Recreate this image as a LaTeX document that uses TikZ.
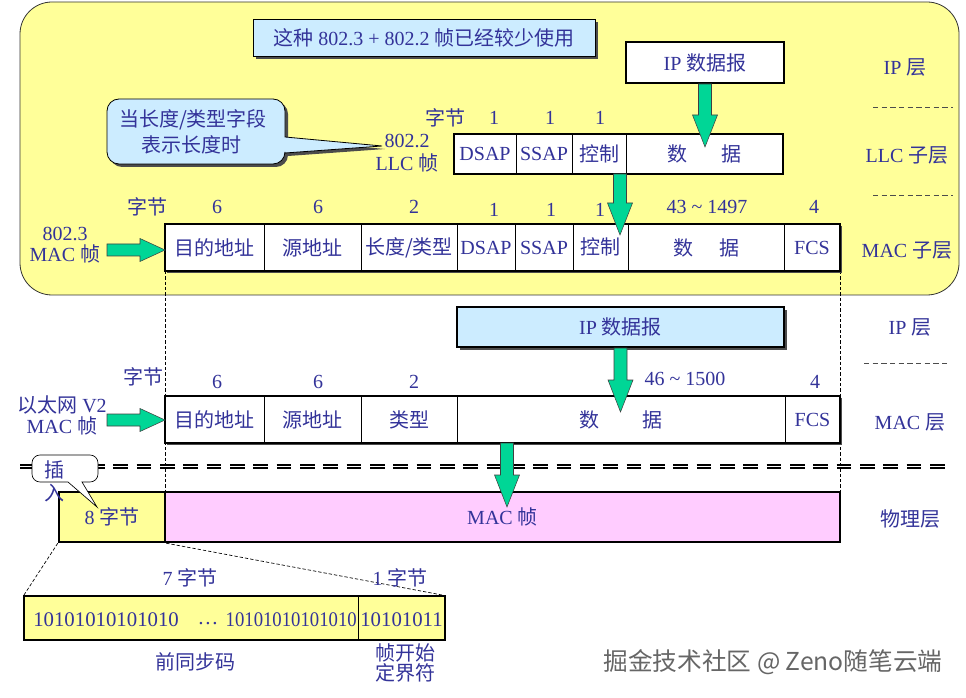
\documentclass[tikz,border=0pt]{standalone}
\usepackage{fontspec}
\setmainfont{Liberation Serif}
\newfontfamily\cjk{Noto Sans CJK SC}
\usetikzlibrary{calc}
\definecolor{txt}{RGB}{51,51,153}
\definecolor{ylw}{RGB}{255,255,153}
\definecolor{lblue}{RGB}{204,236,255}
\definecolor{grn}{RGB}{0,214,150}
\definecolor{pnk}{RGB}{255,204,255}
\newcommand\zh[1]{{\cjk #1}}
\newcommand\fs{\fontsize{15}{18}\selectfont}
\newcommand\cell[7][cellbox]{\node[#1, minimum width={(#4-#3)*0.75pt}, minimum height={(#6-#5)*0.75pt}] (#2) at ({(#3+#4)/2},{(#5+#6)/2}) {#7};}
\newcommand\fatdown[2]{\filldraw[fat] let \p1=(#1), \p2=(#2) in
  ({\x1-4.875pt},{\y1}) -- ({\x1+4.875pt},{\y1}) -- ({\x1+4.875pt},{\y2+24pt}) -- ({\x1+9.375pt},{\y2+24pt}) -- ({\x1},{\y2}) -- ({\x1-9.375pt},{\y2+24pt}) -- ({\x1-4.875pt},{\y2+24pt}) -- cycle;}
\newcommand\fatright[2]{\filldraw[fat] let \p1=(#1), \p2=(#2) in
  ({\x1},{\y2+4.5pt}) -- ({\x2-18.75pt},{\y2+4.5pt}) -- ({\x2-18.75pt},{\y2+8.625pt}) -- ({\x2},{\y2}) -- ({\x2-18.75pt},{\y2-8.625pt}) -- ({\x2-18.75pt},{\y2-4.5pt}) -- ({\x1},{\y2-4.5pt}) -- cycle;}
\begin{document}
\begin{tikzpicture}[x=0.75pt,y=-0.75pt,
  every node/.style={text=txt, inner sep=0pt, font=\fs},
  cellbox/.style={draw=black, line width=0.6pt, fill=white},
  frame/.style={draw=black, line width=1.6pt},
  shade/.style={fill=black!70, draw=none},
  fat/.style={fill=grn, draw=black!75, line width=0.4pt},
  layerdash/.style={draw=black!70, dash pattern=on 4pt off 2.5pt, line width=0.6pt},
  guide/.style={draw=black, dash pattern=on 2.5pt off 1.5pt, line width=0.5pt},
  bits/.style={font=\fontsize{15.6}{18}\selectfont}]
\useasboundingbox (0,0) rectangle (966,698);
\fill[white] (0,0) rectangle (966,698);

% ---------- upper yellow area ----------
\draw[fill=ylw, draw=black!80, line width=0.6pt, rounded corners=24pt] (20,2) rectangle (959,295);

% note
\fill[shade] (256,22) rectangle (598,59);
\cell[draw=black, line width=0.6pt, fill=lblue]{note}{253}{595}{19}{56}{\zh{这种} 802.3 + 802.2 \zh{帧已经较少使用}}

% IP datagram (top)
\cell[draw=black, line width=1.5pt, fill=white]{iptop}{626}{784}{42}{83}{IP \zh{数据报}}

% layer labels
\node (l1) at (905,67) {IP \zh{层}};
\coordinate (d1a) at (873,107); \coordinate (d1b) at (953,107);
\draw[layerdash] (d1a) -- (d1b);
\node (l2) at (907,155) {LLC \zh{子层}};
\coordinate (d2a) at (873,195); \coordinate (d2b) at (953,195);
\draw[layerdash] (d2a) -- (d2b);
\node (l3) at (907,250) {MAC \zh{子层}};

% callout
\def\callpath{(107,112) [rounded corners=9pt] -- (107,99) -- (285,99) [sharp corners] -- (285,137) -- (382,146) -- (285,153) [rounded corners=9pt] -- (285,164) -- (107,164) [sharp corners] -- (107,112)}
\fill[shade, shift={(3,3)}] \callpath;
\draw[fill=lblue, line width=0.6pt] \callpath;
\node (co1) at (193,120) {\zh{当长度/类型字段}};
\node (co2) at (191,145) {\zh{表示长度时}};

% LLC frame
\node (llcA) at (407,141) {802.2};
\node (llcB) at (407,163) {LLC \zh{帧}};
\node (bz1) at (445,118) {\zh{字节}};
\node (o1) at (494,118) {1};
\node (o2) at (550,118) {1};
\node (o3) at (600,118) {1};
\cell{llc1}{454}{516}{134}{174}{DSAP}
\cell{llc2}{516}{572}{134}{174}{SSAP}
\cell{llc3}{572}{626}{134}{174}{\zh{控制}}
\cell{llc4}{626}{783}{134}{174}{\zh{数}\hspace{25pt}\zh{据}}
\draw[frame] (llc1.north west) rectangle (llc4.south east);
\coordinate (t1) at (705,147);
\fatdown{iptop.south}{t1}

% guides
\draw[guide] (165,271) -- (165,492);
\draw[guide] (840,271) -- (840,492);

% MAC 802.3 frame
\node (bz2) at (147,207) {\zh{字节}};
\node (s1) at (217,207) {6};
\node (s2) at (318,207) {6};
\node (s3) at (414,207) {2};
\node (s4) at (494,210) {1};
\node (s5) at (551,210) {1};
\node (s6) at (600,210) {1};
\node (s7) at (707,207) {43 \textasciitilde{} 1497};
\node (s8) at (814,207) {4};
\fill[shade] (167,226) rectangle (842,273);
\cell{m1}{165}{264}{224}{271}{\zh{目的地址}}
\cell{m2}{264}{361}{224}{271}{\zh{源地址}}
\cell{m3}{361}{457}{224}{271}{\zh{长度/类型}}
\cell{m4}{457}{515}{224}{271}{DSAP}
\cell{m5}{515}{573}{224}{271}{SSAP}
\cell{m6}{573}{628}{224}{271}{\raisebox{2pt}{\zh{控制}}}
\cell{m7}{628}{784}{224}{271}{\zh{数}\hspace{19.5pt}\zh{据}}
\cell{m8}{784}{840}{224}{271}{FCS}
\draw[frame] (m1.north west) rectangle (m8.south east);
\node (macA) at (65,234) {802.3};
\node (macB) at (65,254) {MAC \zh{帧}};
\coordinate (r1) at (107,250); \coordinate (r1t) at (165,250);
\fatright{r1}{r1t}
\coordinate (a2s) at (620,174); \coordinate (a2t) at (620,235);
\fatdown{a2s}{a2t}

% ---------- lower part ----------
\fill[shade] (460,310) rectangle (787,350);
\cell[draw=black, line width=1.5pt, fill=lblue]{ipbot}{457}{784}{307}{347}{IP \zh{数据报}}
\node (l4) at (910,327) {IP \zh{层}};
\coordinate (d3a) at (864,363); \coordinate (d3b) at (950,363);
\draw[layerdash] (d3a) -- (d3b);
\node (l5) at (910,422) {MAC \zh{层}};

\node (bz3) at (143,377) {\zh{字节}};
\node (u1) at (217,382) {6};
\node (u2) at (318,382) {6};
\node (u3) at (414,382) {2};
\node (u4) at (685,379) {46 \textasciitilde{} 1500};
\node (u5) at (815,382) {4};
\fill[shade] (167,398) rectangle (842,445);
\cell{n1}{165}{264}{396}{443}{\zh{目的地址}}
\cell{n2}{264}{361}{396}{443}{\zh{源地址}}
\cell{n3}{361}{457}{396}{443}{\zh{类型}}
\cell{n4}{457}{785}{396}{443}{\zh{数}\hspace{32pt}\zh{据}}
\cell{n5}{785}{840}{396}{443}{FCS}
\draw[frame] (n1.north west) rectangle (n5.south east);
\node (ethA) at (62,405) {\zh{以太网} V2};
\node (ethB) at (62,426) {MAC \zh{帧}};
\coordinate (r2) at (107,420); \coordinate (r2t) at (165,420);
\fatright{r2}{r2t}
\coordinate (a3t) at (621,412);
\fatdown{ipbot.south}{a3t}

% double dashed separator
\coordinate (sepA) at (20,466.5); \coordinate (sepB) at (953,466.5);
\draw[double=white, double distance=1.2pt, line width=1.1pt, dash pattern=on 11pt off 6.5pt] (sepA) -- (sepB);

% physical layer
\cell[draw=black, line width=1.8pt, fill=ylw]{p1}{59}{165}{492}{542}{8 \zh{字节}}
\cell[draw=black, line width=1.8pt, fill=pnk]{p2}{165}{840}{492}{542}{MAC \zh{帧}}
\node (l6) at (910,519) {\zh{物理层}};
\coordinate (a4s) at (507,443); \coordinate (a4t) at (507,507);
\fatdown{a4s}{a4t}

% insert callout
\def\inspath{(32,468) [rounded corners=6pt] -- (32,455) -- (98,455) -- (98,482) [sharp corners] -- (82,482) -- (97,507) -- (68,482) [rounded corners=6pt] -- (32,482) [sharp corners] -- (32,468)}
\draw[fill=white, line width=0.5pt] \inspath;
\node (ins1) at (54,470) {\zh{插}};
\node (ins2) at (54,493) {\zh{入}};

% preamble bits
\cell[draw=black, line width=0.6pt, fill=ylw]{b1}{24}{358}{596}{640}{}
\cell[draw=black, line width=0.6pt, fill=ylw]{b2}{358}{445}{596}{640}{}
\draw[frame] (b1.north west) rectangle (b2.south east);
\draw[guide] (p1.south west) -- (b1.north west);
\draw[guide] (p1.south east) -- (b2.north east);
\node[bits, anchor=west] (bt1) at (33,620) {10101010101010};
\node[bits] (bt2) at (208,624) {…};
\node[bits, anchor=east] (bt3) at (357,620) {\scalebox{0.9}[1]{10101010101010}};
\node[bits, anchor=east] (bt4) at (443,620) {10101011};
\node (k1) at (190,578) {7 \zh{字节}};
\node (k2) at (400,578) {1 \zh{字节}};
\node (k3) at (195,662) {\zh{前同步码}};
\node (k4) at (405,653) {\zh{帧开始}};
\node (k5) at (405,673) {\zh{定界符}};

% watermark
\node[text=black!60, font=\cjk\fontsize{18.5}{22}\selectfont] (wm) at (773,662) {掘金技术社区 @ Zeno随笔云端};
\end{tikzpicture}
\end{document}
